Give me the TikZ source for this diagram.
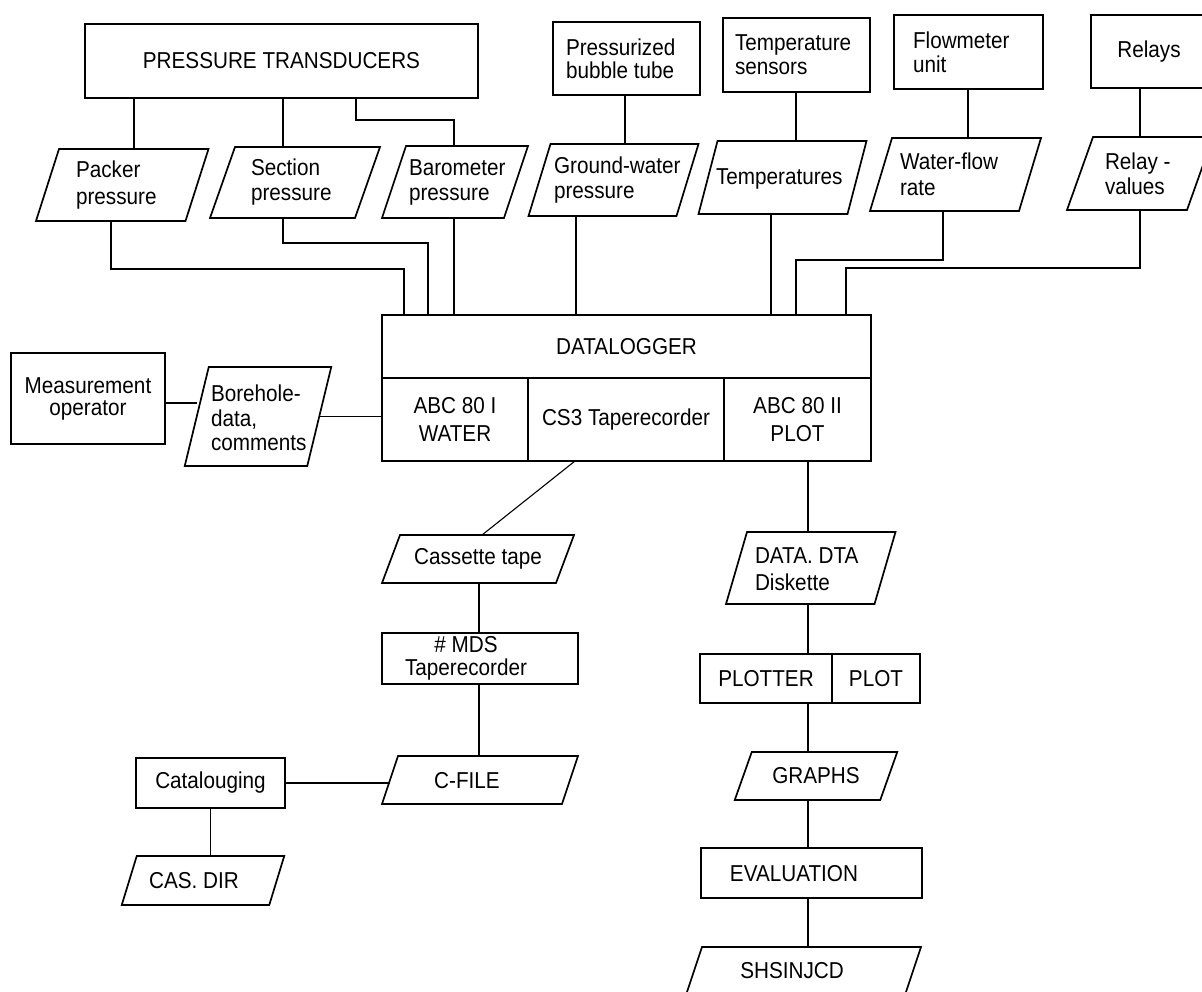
\documentclass[tikz,border=0pt]{standalone}
\usepackage{fontspec}
\setmainfont{Liberation Sans}[FakeStretch=0.9]
\begin{document}
\begin{tikzpicture}[x=1pt,y=-1pt,
  base/.style={inner sep=0pt, outer sep=0pt, align=center,
               font=\fontsize{23}{25}\selectfont},
  box/.style={base, draw, line width=1.7pt},
  io/.style={base},
  txt/.style={inner sep=0pt, outer sep=0pt, align=left, anchor=west,
              font=\fontsize{23}{25}\selectfont},
  ctxt/.style={inner sep=0pt, outer sep=0pt, align=center,
               font=\fontsize{23}{25}\selectfont},
  lh/.style={font=\fontsize{23}{#1}\selectfont},
  outline/.style={line width=1.7pt, line join=miter},
  wire/.style={line width=1.1pt}]

\useasboundingbox (0,0) rectangle (1202,991);
\fill[white] (0,0) rectangle (1202,991);
\clip (0,0) rectangle (1202,991);

% ---------- sources (top row) ----------
\node[box, minimum width=393pt, minimum height=74pt] (pt) at (281.5,61) {PRESSURE TRANSDUCERS};
\node[box, minimum width=147pt, minimum height=73pt] (bubble) at (626.5,58.5) {};
\node[txt, lh=23] (bubble-t) at (566,58.5) {Pressurized\\bubble tube};
\node[box, minimum width=147pt, minimum height=74pt] (tsens) at (796.5,55) {};
\node[txt, lh=24] (tsens-t) at (735,55) {Temperature\\sensors};
\node[box, minimum width=149pt, minimum height=74pt] (flow) at (968.5,52) {};
\node[txt, lh=24] (flow-t) at (913,52) {Flowmeter\\unit};
\node[box, minimum width=116pt, minimum height=73pt] (relays) at (1149,51.5) {Relays};

% ---------- measured quantities ----------
\node[io, minimum width=149.5pt, minimum height=72pt] (packer) at (122.25,185) {};
\node[txt, lh=27] (packer-t) at (76,185) {Packer\\pressure};
\node[io, minimum width=145pt, minimum height=71pt] (section) at (295,182.5) {};
\node[txt] (section-t) at (251,182.5) {Section\\pressure};
\node[io, minimum width=122pt, minimum height=72pt] (baro) at (455,182) {};
\node[txt] (baro-t) at (409,182) {Barometer\\pressure};
\node[io, minimum width=148pt, minimum height=72pt] (gw) at (613.5,180) {};
\node[txt] (gw-t) at (554,180) {Ground-water\\pressure};
\node[io, minimum width=149pt, minimum height=73pt] (temps) at (782.5,177.5) {};
\node[txt] (temps-t) at (716,179) {Temperatures};
\node[io, minimum width=149pt, minimum height=73pt] (wflow) at (955.5,174.5) {};
\node[txt, lh=26] (wflow-t) at (900,174.5) {Water-flow\\rate};
\node[io, minimum width=120pt, minimum height=73pt] (rvals) at (1140,173.5) {};
\node[txt] (rvals-t) at (1105,173.5) {Relay -\\values};

% ---------- datalogger ----------
\node[box, minimum width=489pt, minimum height=63pt] (dl) at (626.5,346.5) {DATALOGGER};
\node[box, minimum width=146pt, minimum height=83pt, lh=28] (abc1) at (455,419.5) {ABC 80 I\\WATER};
\node[box, minimum width=196pt, minimum height=83pt] (cs3) at (626,419.5) {CS3 Taperecorder};
\node[box, minimum width=147pt, minimum height=83pt, lh=28] (abc2) at (797.5,419.5) {ABC 80 II\\PLOT};

% ---------- operator input ----------
\node[box, minimum width=153.5pt, minimum height=91pt, lh=22] (op) at (88,398.5) {Measurement\\operator};
\node[io, minimum width=122.5pt, minimum height=99pt] (bore) at (258,416.5) {};
\node[txt, lh=24.5] (bore-t) at (211,418) {Borehole-\\data,\\comments};

% ---------- tape branch ----------
\node[io, minimum width=174pt, minimum height=48pt] (cass) at (478,559) {Cassette tape};
\node[box, minimum width=196pt, minimum height=51pt] (mds) at (480,658.5) {};
\node[ctxt, lh=23] (mds-t) at (466,658.5) {\# MDS\\Taperecorder};
\node[io, minimum width=180pt, minimum height=48pt] (cfile) at (480,780) {};
\node[ctxt] (cfile-t) at (467,781) {C-FILE};
\node[box, minimum width=149pt, minimum height=50pt] (cat) at (210.5,783) {Catalouging};
\node[io, minimum width=147.5pt, minimum height=49pt] (cas) at (203,880.5) {};
\node[ctxt] (cas-t) at (194,881) {CAS. DIR};

% ---------- plot branch ----------
\node[io, minimum width=148.5pt, minimum height=72pt] (dta) at (810.75,568) {};
\node[txt, lh=27] (dta-t) at (755,569) {DATA. DTA\\Diskette};
\node[box, minimum width=132pt, minimum height=49pt] (plotl) at (766,678.5) {PLOTTER};
\node[box, minimum width=88pt, minimum height=49pt] (plotr) at (876,678.5) {PLOT};
\node[io, minimum width=145.5pt, minimum height=48pt] (graphs) at (816,776) {GRAPHS};
\node[box, minimum width=221pt, minimum height=50pt] (eval) at (811.5,873) {};
\node[ctxt] (eval-t) at (794,874) {EVALUATION};
\node[io, minimum width=219pt, minimum height=48pt] (shs) at (803.5,971) {};
\node[ctxt] (shs-t) at (792,971) {SHSINJCD};

% ---------- input/output outlines (parallelograms) ----------
\foreach \n/\sl in {packer/11.5, section/12.5, baro/12, gw/11, temps/9.5,
                    wflow/11, rvals/13, bore/12, cass/9, cfile/8, cas/7.5,
                    dta/10.5, graphs/8.5, shs/8}
  \draw[outline] ([xshift=-\sl pt]\n.south west) -- ([xshift=-\sl pt]\n.south east)
                 -- ([xshift=\sl pt]\n.north east) -- ([xshift=\sl pt]\n.north west) -- cycle;

% ---------- routing columns ----------
\coordinate (c111) at (111,0);
\coordinate (c134) at (134,0);
\coordinate (c283) at (283,0);
\coordinate (c454) at (454,0);
\coordinate (c576) at (576,0);
\coordinate (c625) at (625,0);
\coordinate (c771) at (771,0);
\coordinate (c796) at (796,0);
\coordinate (c943) at (943,0);
\coordinate (c968) at (968,0);
\coordinate (c1140) at (1140,0);
\coordinate (c575) at (575,0);
\coordinate (c482) at (482,0);
\coordinate (c479) at (479,0);
\coordinate (c808) at (808,0);
\coordinate (c403) at (0,403);
\coordinate (pb) at (356,120);
\coordinate (kp) at (404,269);
\coordinate (ks) at (428,243);
\coordinate (kw) at (796,260);
\coordinate (kr) at (846,268);

% ---------- connectors ----------
\draw[wire] (pt.south -| c134) -- (packer.north -| c134);
\draw[wire] (pt.south -| c283) -- (section.north -| c283);
\draw[wire] (pt.south -| pb) -- (pb) -| (baro.north -| c454);
\draw[wire] (bubble.south -| c625) -- (gw.north -| c625);
\draw[wire] (tsens.south -| c796) -- (temps.north -| c796);
\draw[wire] (flow.south -| c968) -- (wflow.north -| c968);
\draw[wire] (relays.south -| c1140) -- (rvals.north -| c1140);

\draw[wire] (packer.south -| c111) |- (kp) -- (kp |- dl.north);
\draw[wire] (section.south -| c283) |- (ks) -- (ks |- dl.north);
\draw[wire] (baro.south -| c454) -- (dl.north -| c454);
\draw[wire] (gw.south -| c576) -- (dl.north -| c576);
\draw[wire] (temps.south -| c771) -- (dl.north -| c771);
\draw[wire] (wflow.south -| c943) |- (kw) -- (kw |- dl.north);
\draw[wire] (rvals.south -| c1140) |- (kr) -- (kr |- dl.north);

\draw[wire] (op.east |- c403) -- (bore.west |- c403);
\draw[wire] (bore.east) -- (abc1.west |- bore.east);

\draw[wire] (cs3.south -| c575) -- (cass.north -| c482);
\draw[wire] (cass.south -| c479) -- (mds.north -| c479);
\draw[wire] (mds.south -| c479) -- (cfile.north -| c479);
\draw[wire] (cat.east) -- (cfile.west |- cat.east);
\draw[wire] (cat.south) -- (cas.north -| cat.south);

\draw[wire] (abc2.south -| c808) -- (dta.north -| c808);
\draw[wire] (dta.south -| c808) -- (plotl.north -| c808);
\draw[wire] (plotl.south -| c808) -- (graphs.north -| c808);
\draw[wire] (graphs.south -| c808) -- (eval.north -| c808);
\draw[wire] (eval.south -| c808) -- (shs.north -| c808);
\end{tikzpicture}
\end{document}
